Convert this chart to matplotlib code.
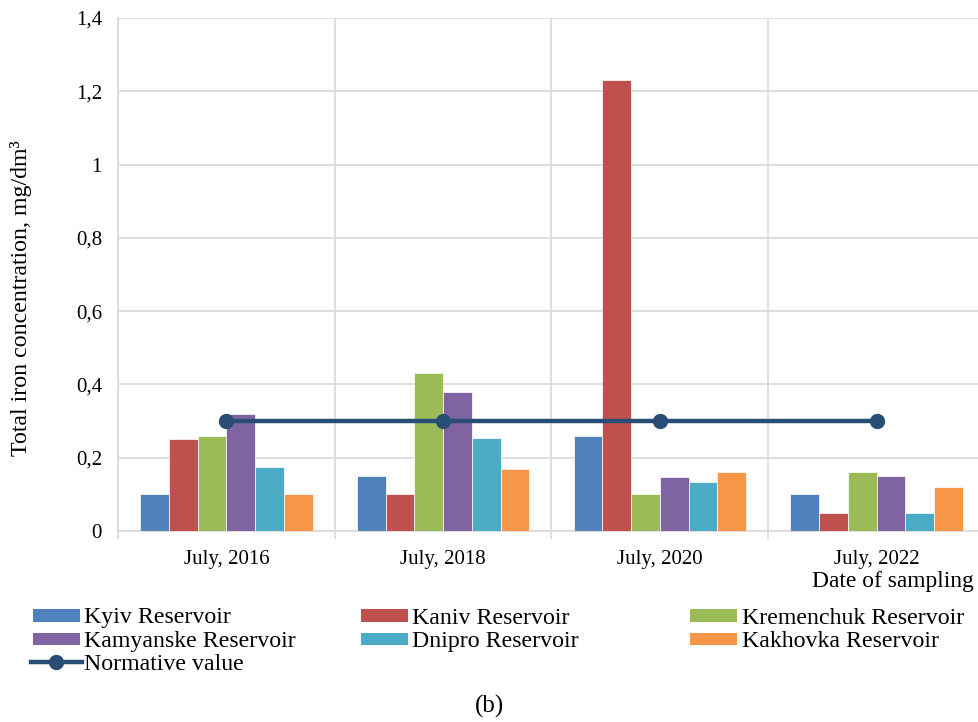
import numpy as np
import matplotlib
matplotlib.use("Agg")
import matplotlib.pyplot as plt
from matplotlib.patches import Rectangle
from matplotlib.lines import Line2D

plt.rcParams['font.family'] = ['Liberation Serif', 'DejaVu Serif']

dates = ["July, 2016", "July, 2018", "July, 2020", "July, 2022"]
series_names = ["Kyiv Reservoir", "Kaniv Reservoir", "Kremenchuk Reservoir",
                "Kamyanske Reservoir", "Dnipro Reservoir", "Kakhovka Reservoir"]
kyiv = [0.10, 0.15, 0.26, 0.10]
kaniv = [0.25, 0.10, 1.23, 0.05]
kremenchuk = [0.26, 0.43, 0.10, 0.16]
kamyanske = [0.32, 0.38, 0.148, 0.15]
dnipro = [0.175, 0.255, 0.133, 0.05]
kakhovka = [0.10, 0.17, 0.16, 0.12]
normative = [0.3, 0.3, 0.3, 0.3]
y_ticks = [0, 0.2, 0.4, 0.6, 0.8, 1.0, 1.2, 1.4]
y_tick_labels = ["0", "0,2", "0,4", "0,6", "0,8", "1", "1,2", "1,4"]

colors = ["#4F81BD", "#C0504D", "#9BBB59", "#8064A2", "#4BACC6", "#F79646"]
line_color = "#284E78"
grid_color = "#D9D9D9"

W, H = 979, 722
fig = plt.figure(figsize=(W / 100, H / 100), dpi=100)
ax = fig.add_axes([118 / W, (H - 531) / H, (985 - 118) / W, (531 - 18) / H])

x = np.arange(len(dates))
all_series = [kyiv, kaniv, kremenchuk, kamyanske, dnipro, kakhovka]
n = len(all_series)
group_width = 0.795
bw = group_width / n
for i, (vals, c) in enumerate(zip(all_series, colors)):
    offs = -group_width / 2 + bw * (i + 0.5)
    ax.bar(x + offs, vals, width=bw, color=c, edgecolor="white",
           linewidth=0.5, zorder=3)

ax.plot(x, normative, color=line_color, linewidth=3.2, marker="o",
        markersize=10, zorder=4)

ax.set_xlim(-0.5, 3.5)
ax.set_ylim(0, 1.4)
ax.set_yticks(y_ticks)
ax.set_yticklabels(y_tick_labels)
ax.tick_params(axis="y", length=0, pad=11.5, labelsize=15)

ax.set_xticks([-0.5, 0.5, 1.5, 2.5, 3.5])
ax.set_xticklabels([])
ax.tick_params(axis="x", which="major", length=6, color=grid_color, width=1.2)
ax.set_xticks(x, minor=True)
ax.set_xticklabels(dates, minor=True)
ax.tick_params(axis="x", which="minor", length=0, pad=14, labelsize=15)

ax.grid(True, axis="both", which="major", color=grid_color, linewidth=1.2, zorder=0)
for side in ["top", "right"]:
    ax.spines[side].set_visible(False)
for side in ["left", "bottom"]:
    ax.spines[side].set_color(grid_color)
    ax.spines[side].set_linewidth(1.2)

ax.set_ylabel("Total iron concentration, mg/dm³", fontsize=17.2)
ax.yaxis.set_label_coords((32 - 118) / 867, (531 - 298) / 513)

fig.text(974 / W, 1 - 582 / H, "Date of sampling", ha="right", va="center",
         fontsize=16.9)

# Legend laid out on a fixed grid of three columns
leg_fs = 17.2
col_x = [33, 361, 690]
row_y = [615.5, 639, 662]
sw, sh = 47, 12.5
entries = [(0, 0, 0), (1, 0, 1), (2, 0, 2), (3, 1, 0), (4, 1, 1), (5, 1, 2)]
for idx, r, cidx in entries:
    x0 = col_x[cidx]
    y0 = row_y[r]
    fig.patches.append(Rectangle((x0 / W, 1 - (y0 + sh / 2) / H), sw / W, sh / H,
                                 transform=fig.transFigure, facecolor=colors[idx],
                                 edgecolor="none"))
    fig.text((x0 + sw + 4.5) / W, 1 - y0 / H, series_names[idx], ha="left",
             va="center_baseline", fontsize=leg_fs)
x0, y0 = col_x[0], row_y[2]
fig.lines.append(Line2D([(x0 - 2) / W, (x0 + sw + 2) / W], [1 - y0 / H, 1 - y0 / H],
                        transform=fig.transFigure, color=line_color, linewidth=3.2))
fig.lines.append(Line2D([(x0 + sw / 2) / W], [1 - y0 / H], transform=fig.transFigure,
                        color=line_color, marker="o", markersize=10, linestyle="none"))
fig.text((x0 + sw + 4.5) / W, 1 - y0 / H, "Normative value", ha="left",
         va="center_baseline", fontsize=leg_fs)

fig.text(490 / W, 1 - 706 / H, "(b)", ha="center", va="center", fontsize=18)

fig.savefig("out.png", dpi=100)
